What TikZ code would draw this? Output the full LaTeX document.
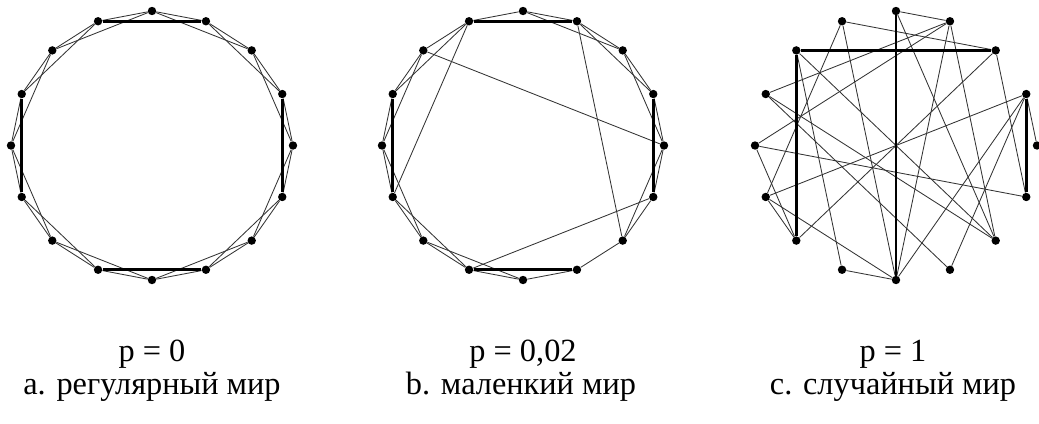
\documentclass[tikz,border=0pt]{standalone}
\usepackage{fontspec}
\setmainfont{Liberation Serif}
\tikzset{
  dot/.style={circle, fill=black, inner sep=0pt, minimum size=0.21cm},
  link/.style={line width=0.6pt, black!80},
  bold/.style={line width=1.9pt, black},
  caption/.style={font=\fontsize{23}{26}\selectfont, anchor=base},
}
\begin{document}
\begin{tikzpicture}[x=0.025cm, y=-0.025cm]
\useasboundingbox (0,0) rectangle (1039,423);
% three rings of 16 vertices
\foreach \g/\cx in {a/152, b/523, c/896} {
  \foreach \i in {0,...,15} {
    \node[dot] (\g\i) at ({\cx+141*sin(22.5*\i)}, {145.5-134.5*cos(22.5*\i)}) {};
  }
}
% a: regular ring, each vertex to its two nearest neighbours on both sides
\foreach \i in {0,...,15} {
  \pgfmathtruncatemacro\j{mod(\i+1,16)}
  \pgfmathtruncatemacro\k{mod(\i+2,16)}
  \draw[link] (a\i) -- (a\j);
  \draw[link] (a\i) -- (a\k);
}
\draw[bold] (a15) -- (a1) (a9) -- (a7) (a13) -- (a11) (a3) -- (a5);
% b: a few edges rewired
\foreach \i/\j in {0/1,1/2,2/3,3/4,4/5,5/6,6/7,7/8,8/9,9/10,10/11,11/12,12/13,13/14,14/15,15/0,
                   0/2,1/3,2/4,4/6,7/9,8/10,9/11,10/12,12/14,13/15,
                   14/4,15/11,1/6,5/9} {
  \draw[link] (b\i) -- (b\j);
}
\draw[bold] (b15) -- (b1) (b9) -- (b7) (b13) -- (b11) (b3) -- (b5);
% c: all edges rewired
\foreach \i/\j in {3/4,0/1,15/2,15/11,15/8,0/6,1/6,1/8,13/1,7/3,3/11,2/10,2/5,12/5,
                   14/6,13/6,14/9,12/1,12/10,11/10,9/8,3/8,7/13,11/8} {
  \draw[link] (c\i) -- (c\j);
}
\draw[bold] (c0) -- (c8) (c14) -- (c2) (c14) -- (c10) (c3) -- (c5);
% captions
\node[caption] (pa) at (152,361) {p = 0};
\node[caption] (ta) at (152,394) {a. регулярный мир};
\node[caption] (pb) at (523,361) {p = 0,02};
\node[caption] (tb) at (521,394) {b. маленкий мир};
\node[caption] (pc) at (893,361) {p = 1};
\node[caption] (tc) at (893,394) {c. случайный мир};
\end{tikzpicture}
\end{document}
